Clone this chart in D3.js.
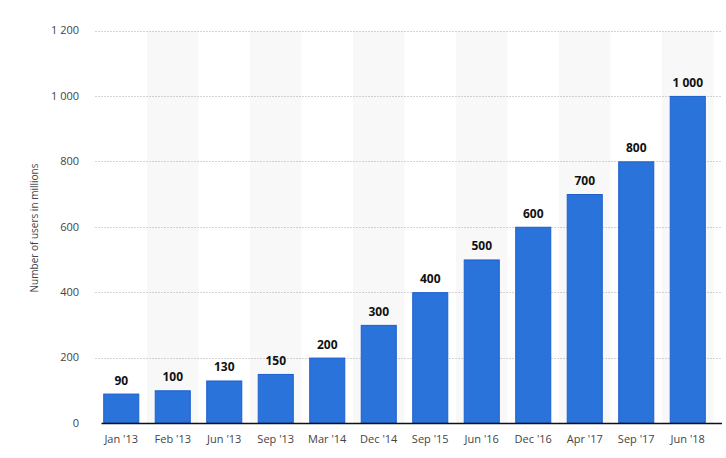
<!DOCTYPE html>
<html>
<head>
<meta charset="utf-8">
<script src="https://cdn.jsdelivr.net/npm/d3@7"></script>
<style>
  body { margin: 0; background: #fff; }
  svg text { font-family: "Open Sans", "DejaVu Sans", sans-serif; }
</style>
</head>
<body>
<div id="chart"></div>
<script>
// categories and values
var categories = ["Jan '13", "Feb '13", "Jun '13", "Sep '13", "Mar '14", "Dec '14",
                  "Sep '15", "Jun '16", "Dec '16", "Apr '17", "Sep '17", "Jun '18"];
var users = [90, 100, 130, 150, 200, 300, 400, 500, 600, 700, 800, 1000];
var yTicks = [0, 200, 400, 600, 800, 1000, 1200];

var width = 726, height = 458;
var margin = {top: 30.5, right: 12.5, bottom: 35, left: 95.5};

var svg = d3.select("#chart").append("svg")
    .attr("width", width)
    .attr("height", height);

var x = d3.scaleBand()
    .domain(categories)
    .range([margin.left, width - margin.right])
    .paddingInner(0.3)
    .paddingOuter(0.15);

var y = d3.scaleLinear()
    .domain([0, 1200])
    .range([height - margin.bottom, margin.top]);

var fmt = function(v) { return d3.format(",")(v).replace(/,/g, " "); };

// alternating background bands
var step = x.step();
svg.append("g").selectAll("rect")
    .data(categories.filter(function(d, i) { return i % 2 === 1; }))
    .enter().append("rect")
    .attr("x", function(d) { return x(d) - x.paddingInner() * step / 2; })
    .attr("y", y(1200) + 1)
    .attr("width", step)
    .attr("height", y(0) - y(1200) - 1)
    .attr("fill", "#f8f8f8");

// gridlines
svg.append("g").selectAll("line")
    .data(yTicks.filter(function(d) { return d > 0; }))
    .enter().append("line")
    .attr("x1", margin.left)
    .attr("x2", width - 4)
    .attr("y1", function(d) { return Math.round(y(d)) + 0.5; })
    .attr("y2", function(d) { return Math.round(y(d)) + 0.5; })
    .attr("stroke", "#a8a8a8")
    .attr("stroke-dasharray", "1,2");

// y tick labels
svg.append("g").selectAll("text")
    .data(yTicks)
    .enter().append("text")
    .attr("x", 79)
    .attr("y", function(d) { return y(d); })
    .attr("dy", "0.35em")
    .attr("text-anchor", "end")
    .attr("font-size", 11)
    .attr("fill", "#444")
    .text(fmt);

// bars
svg.append("g").selectAll("rect")
    .data(users)
    .enter().append("rect")
    .attr("x", function(d, i) { return x(categories[i]) + 0.5; })
    .attr("y", function(d) { return y(d) + 0.5; })
    .attr("width", x.bandwidth() - 1)
    .attr("height", function(d) { return y(0) - y(d) - 0.5; })
    .attr("fill", "#2a73da")
    .attr("stroke", "#1b5fcf")
    .attr("stroke-width", 1);

// value labels
svg.append("g").selectAll("text")
    .data(users)
    .enter().append("text")
    .attr("x", function(d, i) { return x(categories[i]) + x.bandwidth() / 2; })
    .attr("y", function(d) { return y(d) - 9; })
    .attr("text-anchor", "middle")
    .attr("font-size", 12)
    .attr("font-weight", "bold")
    .attr("fill", "#111")
    .text(fmt);

// x axis baseline
svg.append("line")
    .attr("x1", margin.left + 6)
    .attr("x2", width - 4)
    .attr("y1", y(0) + 0.5)
    .attr("y2", y(0) + 0.5)
    .attr("stroke", "#111")
    .attr("stroke-width", 1.5);

// x labels
svg.append("g").selectAll("text")
    .data(categories)
    .enter().append("text")
    .attr("x", function(d) { return x(d) + x.bandwidth() / 2; })
    .attr("y", y(0) + 20)
    .attr("text-anchor", "middle")
    .attr("font-size", 11)
    .attr("fill", "#444")
    .text(function(d) { return d; });

// y axis title
svg.append("text")
    .attr("transform", "translate(38," + 228 + ") rotate(-90)")
    .attr("text-anchor", "middle")
    .attr("font-size", 10)
    .attr("fill", "#444")
    .text("Number of users in millions");
</script>
</body>
</html>
